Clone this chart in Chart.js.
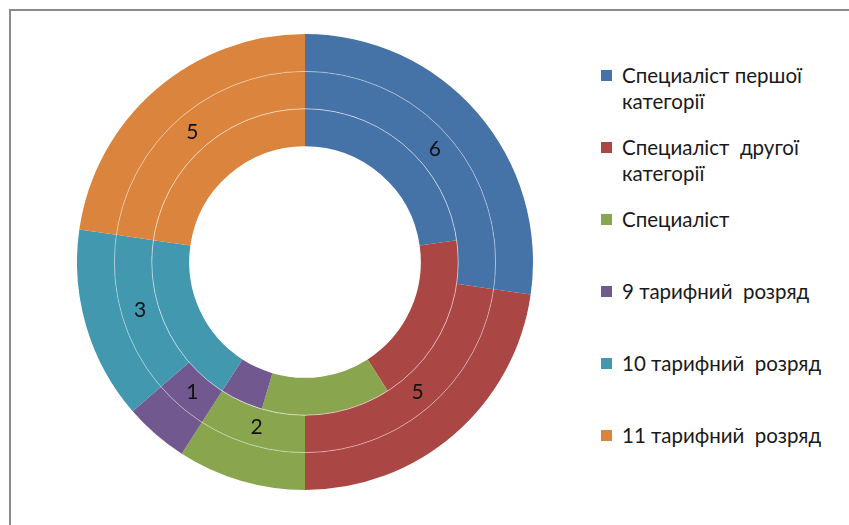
<!DOCTYPE html>
<html lang="uk">
<head>
    <meta charset="UTF-8">
    <title>Doughnut</title>
    <script src="https://cdn.jsdelivr.net/npm/chart.js"></script>
    <style>
        body {
            margin: 0;
            padding: 0;
            width: 849px;
            height: 525px;
            overflow: hidden;
            background: #fff;
            font-family: Lato, "Liberation Sans", sans-serif;
        }

        .frame {
            position: absolute;
            left: 9px;
            top: 9px;
            width: 860px;
            height: 540px;
            border-top: 2px solid #8a8a8a;
            border-left: 2px solid #8a8a8a;
        }

        .chart-box {
            position: absolute;
            left: 77px;
            top: 34px;
            width: 456px;
            height: 456px;
        }

        .legend {
            position: absolute;
            left: 601px;
            top: 62px;
        }

        .legend-item {
            position: relative;
            height: 72px;
            padding-left: 21px;
            font-size: 20.5px;
            line-height: 26px;
            color: #1a1a1a;
            white-space: pre;
        }

        .legend-item span {
            position: absolute;
            left: 0;
            top: 8px;
            width: 11px;
            height: 11px;
        }
    </style>
</head>
<body>
    <div class="frame"></div>
    <div class="chart-box"><canvas id="chartCanvas"></canvas></div>
    <div class="legend" id="legend"></div>

    <script>
        const categories = [
            'Специаліст першої\nкатегорії',
            'Специаліст  другої\nкатегорії',
            'Специаліст',
            '9 тарифний  розряд',
            '10 тарифний  розряд',
            '11 тарифний  розряд'
        ];
        const outerValues = [6, 5, 2, 1, 3, 5];
        const middleValues = [6, 5, 2, 1, 3, 5];
        const innerValues = [5, 4, 3, 1, 4, 5];
        const colors = ['#4572A7', '#AA4643', '#89A54E', '#71588F', '#4198AF', '#DB843D'];

        // legend built from the same arrays
        const legend = document.getElementById('legend');
        categories.forEach((name, i) => {
            const item = document.createElement('div');
            item.className = 'legend-item';
            const box = document.createElement('span');
            box.style.background = colors[i];
            item.appendChild(box);
            item.appendChild(document.createTextNode(name));
            legend.appendChild(item);
        });

        // thin white circles between rings + value labels on the middle ring
        const ringPlugin = {
            id: 'ringPlugin',
            afterDatasetsDraw(chart) {
                const ctx = chart.ctx;
                ctx.save();
                ctx.lineWidth = 1;
                [[1, 0.4], [2, 0.55]].forEach(([d, alpha]) => {
                    const arc = chart.getDatasetMeta(d).data[0];
                    ctx.strokeStyle = 'rgba(255,255,255,' + alpha + ')';
                    ctx.beginPath();
                    ctx.arc(arc.x, arc.y, arc.outerRadius, 0, Math.PI * 2);
                    ctx.stroke();
                });

                ctx.fillStyle = '#111';
                ctx.font = '21px Lato, "Liberation Sans", sans-serif';
                ctx.textAlign = 'center';
                ctx.textBaseline = 'middle';
                chart.getDatasetMeta(1).data.forEach((arc, i) => {
                    const p = arc.tooltipPosition();
                    ctx.fillText(String(middleValues[i]), p.x, p.y);
                });
                ctx.restore();
            }
        };

        new Chart(document.getElementById('chartCanvas'), {
            type: 'doughnut',
            data: {
                labels: categories,
                datasets: [
                    { data: outerValues, backgroundColor: colors, borderWidth: 0 },
                    { data: middleValues, backgroundColor: colors, borderWidth: 0 },
                    { data: innerValues, backgroundColor: colors, borderWidth: 0 }
                ]
            },
            options: {
                responsive: true,
                maintainAspectRatio: false,
                animation: false,
                cutout: '50.8%',
                layout: { padding: 0 },
                plugins: {
                    legend: { display: false },
                    tooltip: { enabled: false }
                }
            },
            plugins: [ringPlugin]
        });
    </script>
</body>
</html>
